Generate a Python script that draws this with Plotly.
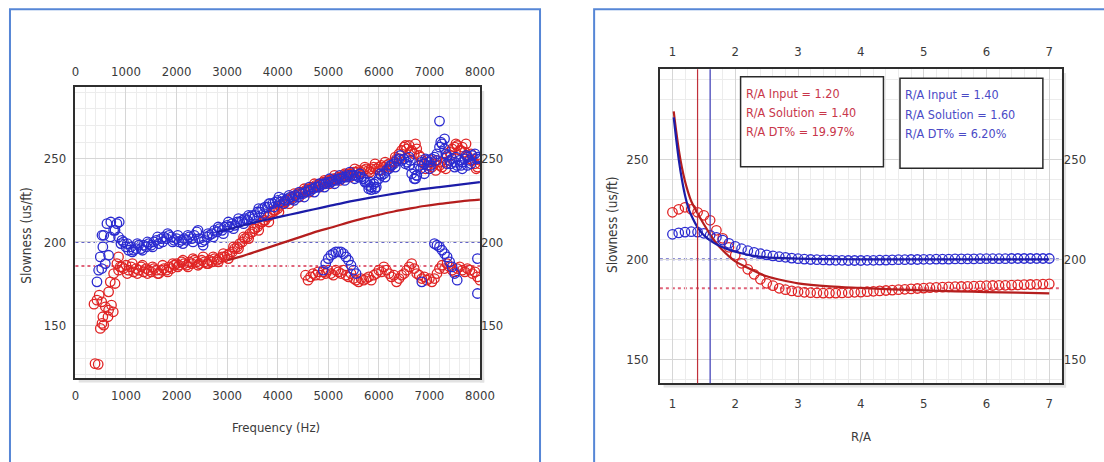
import plotly.graph_objects as go

W, H = 1104, 462
W_EFF = 1089  # horizontal extent the page is actually photographed at

# ---------------- Left panel: slowness vs frequency ----------------
band_hz = list(range(950, 8001, 50))
blue_band_us = [
    200, 197, 195, 197, 195, 196, 198, 196, 198, 197,
    199, 198, 200, 201, 199, 202, 203, 202, 204, 203,
    201, 202, 200, 201, 202, 201, 203, 202, 204, 206,
    202, 200, 201, 203, 204, 205, 207, 206, 208, 207,
    209, 210, 209, 211, 210, 212, 212, 213, 214, 213,
    215, 216, 216, 218, 218, 220, 221, 221, 223, 223,
    224, 225, 224, 226, 225, 226, 227, 226, 228, 227,
    229, 229, 230, 231, 231, 232, 233, 233, 234, 235,
    235, 236, 236, 237, 237, 238, 238, 239, 239, 240,
    240, 240, 240, 239, 239, 238, 236, 234, 233, 235,
    236, 238, 240, 241, 243, 244, 246, 247, 249, 250,
    249, 250, 248, 246, 241, 244, 240, 246, 248, 247,
    249, 248, 250, 251, 253, 257, 259, 256, 252, 249,
    250, 248, 246, 249, 248, 250, 251, 249, 252, 253,
    251, 250,
]
red_band_us = [
    184, 186, 183, 185, 182, 184, 183, 185, 182, 184,
    183, 182, 184, 183, 181, 183, 184, 183, 185, 184,
    186, 187, 186, 188, 187, 186, 188, 187, 189, 188,
    187, 189, 188, 187, 189, 188, 190, 189, 190, 191,
    191, 192, 193, 194, 196, 197, 199, 200, 202, 203,
    205, 206, 208, 209, 211, 212, 213, 215, 216, 218,
    219, 220, 222, 223, 224, 225, 226, 227, 228, 229,
    230, 230, 231, 232, 232, 233, 234, 234, 235, 236,
    236, 237, 237, 238, 238, 239, 239, 240, 240, 241,
    241, 242, 242, 243, 242, 243, 244, 243, 244, 245,
    244, 245, 246, 245, 246, 247, 246, 248, 250, 253,
    255, 257, 256, 258, 255, 253, 256, 252, 249, 247,
    246, 248, 245, 247, 249, 246, 245, 248, 251, 254,
    256, 257, 258, 255, 257, 254, 252, 250, 249, 247,
    245, 247,
]
band2_hz = list(range(1025, 8000, 100))
blue_band2_us = [
    199, 194, 199, 195, 200, 197, 203, 200, 205, 200,
    204, 199, 204, 200, 207, 198, 205, 203, 209, 205,
    212, 208, 214, 211, 216, 214, 220, 217, 223, 221,
    227, 223, 228, 225, 230, 227, 233, 230, 235, 233,
    238, 235, 240, 237, 242, 238, 241, 236, 236, 232,
    241, 239, 246, 245, 252, 247, 249, 238, 244, 250,
    246, 249, 260, 253, 247, 251, 246, 252, 247, 250,
]
red_band2_us = [
    181, 187, 181, 186, 181, 185, 181, 186, 182, 187,
    185, 189, 185, 190, 186, 191, 187, 191, 188, 193,
    190, 197, 196, 203, 202, 208, 207, 213, 212, 219,
    218, 224, 223, 229, 227, 232, 230, 235, 233, 237,
    235, 240, 237, 241, 239, 244, 241, 245, 242, 247,
    243, 248, 245, 251, 250, 258, 254, 259, 251, 244,
    249, 243, 248, 244, 252, 259, 255, 259, 253, 244,
]
red_low_hz = list(range(4550, 8001, 50))
red_low_us = [
    180, 177, 179, 181, 180, 182, 180, 182, 181, 183,
    181, 180, 183, 182, 181, 183, 180, 179, 181, 178,
    177, 176, 178, 177, 178, 179, 177, 180, 181, 183,
    182, 185, 183, 181, 179, 180, 176, 178, 180, 181,
    183, 185, 187, 184, 181, 180, 178, 179, 177, 178,
    176, 178, 181, 184, 186, 184, 187, 185, 183, 182,
    184, 185, 183, 182, 184, 183, 181, 182, 179, 177,
]
red_lowf_hz = [367, 388, 450, 426, 470, 492, 520, 525, 542, 560, 591, 644,
               656, 656, 689, 713, 748, 755, 783, 820, 852, 853, 885, 920]
red_lowf_us = [162.6, 126.8, 126.4, 165, 168, 148, 164, 151, 155, 150, 161, 155,
               159, 170, 176, 162, 158, 181, 175, 187, 191, 183, 185, 185]
blue_lowf_hz = [426, 459, 492, 520, 525, 542, 560, 591, 623, 656, 689, 700,
                755, 783, 820, 853, 866, 900, 920]
blue_lowf_us = [176, 183, 191, 184, 204, 197, 204, 187, 211, 192, 203, 212,
                207, 207, 211, 203, 212, 199, 201]
blue_bump_hz = [4900, 4950, 5000, 5050, 5100, 5150, 5200, 5250, 5300, 5350,
                5400, 5450, 5500, 5550]
blue_bump_us = [183, 187, 190, 192, 193, 194, 194, 194, 193, 191, 189, 186, 183, 181]
blue_tail_hz = [7100, 7150, 7200, 7250, 7300, 7350, 7400, 7450, 7500, 7550,
                6850, 7950, 7950]
blue_tail_us = [199, 198, 197, 195, 193, 191, 188, 185, 181, 177, 176, 190, 169]
blue_extra_hz = [6700, 6750, 6900, 7000, 7300, 7200, 7500, 7650, 5800, 5850,
                 5950, 7750, 7350, 6600]
blue_extra_us = [238, 240, 241, 244, 262, 272.7, 245, 244, 232, 231.5,
                 233, 246, 247, 251]

blue_fit_hz = [2800, 3200, 3500, 3800, 4100, 4400, 4700, 5000, 5300, 5600,
               6000, 6400, 6800, 7200, 7600, 8000]
blue_fit_us = [206, 209, 211.5, 213.5, 215.5, 217.5, 219.5, 221.5, 223.5, 225.3,
               227.5, 229.5, 231.5, 233, 234.5, 236]
red_fit_hz = [3000, 3300, 3600, 3900, 4200, 4500, 4800, 5100, 5400, 5700,
              6000, 6300, 6600, 6900, 7200, 7500, 7800, 8000]
red_fit_us = [189, 191.5, 194.5, 197.5, 200.5, 203.5, 206.5, 209, 211.8, 214.2,
              216.3, 218.3, 220, 221.6, 222.9, 224, 225, 225.5]

ref_blue_us = 200
ref_red_us = 185.5

# ---------------- Right panel: slowness vs R/A ----------------
ra_grid = [round(1.0 + 0.1 * i, 1) for i in range(61)]
red_ra_us = [
    223.5, 225.0, 226.0, 225.0, 223.5, 222.0, 219.5, 214.5, 210.5, 206.0,
    202.0, 198.0, 195.0, 192.5, 190.0, 188.0, 186.8, 185.5, 184.8, 184.2,
    183.8, 183.5, 183.3, 183.2, 183.1, 183.1, 183.1, 183.2, 183.3, 183.5,
    183.6, 183.8, 184.0, 184.2, 184.4, 184.6, 184.8, 185.0, 185.2, 185.4,
    185.6, 185.8, 186.0, 186.1, 186.2, 186.3, 186.4, 186.5, 186.6, 186.7,
    186.8, 186.9, 187.0, 187.0, 187.1, 187.2, 187.3, 187.4, 187.5, 187.6,
    187.7,
]
blue_ra_us = [
    212.5, 213.2, 213.6, 213.8, 213.6, 213.0, 212.0, 211.0, 209.6, 208.0,
    206.5, 205.3, 204.3, 203.5, 202.8, 202.2, 201.7, 201.3, 201.0, 200.6,
    200.3, 200.1, 199.9, 199.8, 199.7, 199.6, 199.5, 199.5, 199.4, 199.4,
    199.4, 199.5, 199.5, 199.6, 199.6, 199.7, 199.8, 199.8, 199.9, 199.9,
    200.0, 200.0, 200.1, 200.1, 200.1, 200.2, 200.2, 200.2, 200.2, 200.3,
    200.3, 200.3, 200.3, 200.3, 200.4, 200.4, 200.4, 200.4, 200.4, 200.4,
    200.4,
]
fit_ra = [1.02, 1.06, 1.1, 1.15, 1.2, 1.25, 1.3, 1.4, 1.5, 1.6, 1.7, 1.8, 1.9,
          2.0, 2.25, 2.5, 2.75, 3.0, 3.5, 4.0, 4.5, 5.0, 5.5, 6.0, 6.5, 7.0]
red_fit_ra_us = [274, 264, 255, 246, 239, 233.5, 229, 223, 217.5, 212.5, 208, 204.5,
                 201.5, 199, 195, 191.5, 189.5, 188, 186.5, 185.7, 185, 184.5, 184,
                 183.6, 183.3, 183]
blue_fit_ra_us = [271, 260, 250, 240, 232, 226, 222, 216, 212, 209.5, 207.5, 206,
                  204.8, 203.8, 202, 201, 200.6, 200.3, 200.1, 200, 200, 200, 200,
                  200, 200, 200]
ra_solution = [1.40, 1.60]
box_red_lines = ["R/A Input = 1.20", "R/A Solution = 1.40", "R/A DT% = 19.97%"]
box_blue_lines = ["R/A Input = 1.40", "R/A Solution = 1.60", "R/A DT% = 6.20%"]

# ---------------- styling ----------------
RED_M = "#e02424"
BLUE_M = "#2b2bd0"
RED_L = "#b51e1e"
BLUE_L = "#1c1ca8"
RED_D = "#e0647a"
BLUE_D = "#6464c8"
RED_T = "#c8364a"
BLUE_T = "#4a4ac6"
FONT = "Liberation Sans Narrow, DejaVu Sans Condensed, Arial Narrow, sans-serif"
TICK_FONT = dict(family=FONT, size=13, color="#3a3a3a")


def px_x(p):
    return p / W_EFF


def px_y(p):
    return (H - p) / H


fig = go.Figure()


def circles(x, y, color, xa, ya, size=9.5):
    fig.add_trace(go.Scatter(
        x=x, y=y, mode="markers", xaxis=xa, yaxis=ya, showlegend=False,
        hoverinfo="skip",
        marker=dict(symbol="circle-open", size=size, color=color,
                    line=dict(width=1.3, color=color))))


def curve(x, y, color, xa, ya):
    fig.add_trace(go.Scatter(
        x=x, y=y, mode="lines", xaxis=xa, yaxis=ya, showlegend=False,
        hoverinfo="skip", line=dict(color=color, width=2.2, shape="spline")))


# left panel traces
circles(red_lowf_hz, red_lowf_us, RED_M, "x", "y")
circles(red_low_hz, red_low_us, RED_M, "x", "y")
circles(band2_hz, red_band2_us, RED_M, "x", "y")
circles(band_hz, red_band_us, RED_M, "x", "y")
circles(blue_lowf_hz, blue_lowf_us, BLUE_M, "x", "y")
circles(blue_bump_hz, blue_bump_us, BLUE_M, "x", "y")
circles(blue_tail_hz, blue_tail_us, BLUE_M, "x", "y")
circles(blue_extra_hz, blue_extra_us, BLUE_M, "x", "y")
circles(band2_hz, blue_band2_us, BLUE_M, "x", "y")
circles(band_hz, blue_band_us, BLUE_M, "x", "y")
curve(blue_fit_hz, blue_fit_us, BLUE_L, "x", "y")
curve(red_fit_hz, red_fit_us, RED_L, "x", "y")
# overlay axes (top / right labels)
fig.add_trace(go.Scatter(x=[], y=[], xaxis="x2", yaxis="y2", showlegend=False))

# right panel traces
circles(ra_grid, red_ra_us, RED_M, "x3", "y3")
circles(ra_grid, blue_ra_us, BLUE_M, "x3", "y3")
curve(fit_ra, red_fit_ra_us, RED_L, "x3", "y3")
curve(fit_ra, blue_fit_ra_us, BLUE_L, "x3", "y3")
fig.add_trace(go.Scatter(x=[], y=[], xaxis="x4", yaxis="y4", showlegend=False))

# domains (pixel measured)
L_X = [px_x(71.7), px_x(477.7)]
L_Y = [px_y(378.3), px_y(87.3)]
R_X = [px_x(658.3), px_x(1061.7)]
R_Y = [px_y(383.3), px_y(69.3)]

grid_major = "#d6d6d6"
grid_minor = "#ececec"


def xax(domain, rng, dtick, minor, side, anchor, overlay=None, standoff=8):
    d = dict(domain=domain, range=rng, dtick=dtick, tick0=0, side=side,
             anchor=anchor, tickfont=TICK_FONT, zeroline=False,
             ticks="", ticklabelstandoff=standoff, fixedrange=True)
    if overlay:
        d.update(overlaying=overlay, showgrid=False, showline=False)
    else:
        d.update(showgrid=True, gridcolor=grid_major, gridwidth=1,
                 minor=dict(dtick=minor, showgrid=True, gridcolor=grid_minor, gridwidth=1),
                 showline=True, linecolor="#2e2e2e", linewidth=1.5, mirror=True)
    return d


lay = dict(
    width=W, height=H, margin=dict(l=0, r=0, t=0, b=0), autosize=False,
    paper_bgcolor="white", plot_bgcolor="white",
    xaxis=xax(L_X, [0, 8000], 1000, 200, "bottom", "y", standoff=4),
    xaxis2=xax(L_X, [0, 8000], 1000, 200, "top", "y", overlay="x", standoff=8),
    yaxis=xax(L_Y, [118, 293], 50, 10, "left", "x", standoff=5),
    yaxis2=xax(L_Y, [118, 293], 50, 10, "right", "x", overlay="y", standoff=0),
    xaxis3=xax(R_X, [0.8, 7.2], 1, 0.2, "bottom", "y3", standoff=7),
    xaxis4=xax(R_X, [0.8, 7.2], 1, 0.2, "top", "y3", overlay="x3", standoff=10),
    yaxis3=xax(R_Y, [138, 295], 50, 10, "left", "x3", standoff=7),
    yaxis4=xax(R_Y, [138, 295], 50, 10, "right", "x3", overlay="y3", standoff=1),
)
fig.update_layout(**lay)

shapes = []
# panel borders
shapes.append(dict(type="rect", xref="paper", yref="paper", x0=px_x(6), x1=px_x(538),
                   y0=-0.05, y1=px_y(9.3), line=dict(color="#5686d6", width=2),
                   layer="below"))
shapes.append(dict(type="rect", xref="paper", yref="paper", x0=px_x(592.3), x1=1.05,
                   y0=-0.05, y1=px_y(9.3), line=dict(color="#5686d6", width=2),
                   layer="below"))
# frame shadows
for (x0, x1, y0, y1) in [(477.7, 482, 91, 382.5), (75, 482, 378.3, 382.5),
                         (1061.7, 1066, 73, 387.5), (662, 1066, 383.3, 387.5)]:
    shapes.append(dict(type="rect", xref="paper", yref="paper", x0=px_x(x0), x1=px_x(x1),
                       y0=px_y(y1), y1=px_y(y0), line=dict(width=0),
                       fillcolor="#e2e2e2", layer="below"))
# reference dashed lines
for xa, ya in [("x", "y"), ("x3", "y3")]:
    shapes.append(dict(type="line", xref=f"{xa} domain", yref=ya, x0=0, x1=1,
                       y0=ref_blue_us, y1=ref_blue_us,
                       line=dict(color=BLUE_D, width=2, dash="3px,3px"), layer="below"))
    shapes.append(dict(type="line", xref=f"{xa} domain", yref=ya, x0=0, x1=1,
                       y0=ref_red_us, y1=ref_red_us,
                       line=dict(color=RED_D, width=2, dash="3px,3px"), layer="below"))
# solution vertical lines
shapes.append(dict(type="line", xref="x3", yref="y3 domain", x0=ra_solution[0],
                   x1=ra_solution[0], y0=0, y1=1, line=dict(color="#c0303a", width=1.2)))
shapes.append(dict(type="line", xref="x3", yref="y3 domain", x0=ra_solution[1],
                   x1=ra_solution[1], y0=0, y1=1, line=dict(color="#3a3ab8", width=1.2)))
# text boxes
shapes.append(dict(type="rect", xref="paper", yref="paper", x0=px_x(739.3), x1=px_x(882.7),
                   y0=px_y(166.7), y1=px_y(76.7), line=dict(color="#2a2a2a", width=1.5),
                   fillcolor="white"))
shapes.append(dict(type="rect", xref="paper", yref="paper", x0=px_x(899.3), x1=px_x(1042.7),
                   y0=px_y(168.3), y1=px_y(78.3), line=dict(color="#2a2a2a", width=1.5),
                   fillcolor="white"))
fig.update_layout(shapes=shapes)

ann = []
for i, t in enumerate(box_red_lines):
    ann.append(dict(text=t, xref="paper", yref="paper", x=px_x(742.5),
                    y=px_y([93.3, 112.5, 131.7][i]), xanchor="left", yanchor="middle",
                    showarrow=False, font=dict(family=FONT, size=12.5, color=RED_T)))
for i, t in enumerate(box_blue_lines):
    ann.append(dict(text=t, xref="paper", yref="paper", x=px_x(902.5),
                    y=px_y([95, 114.5, 133.5][i]), xanchor="left", yanchor="middle",
                    showarrow=False, font=dict(family=FONT, size=12.5, color=BLUE_T)))
ann.append(dict(text="Frequency (Hz)", xref="paper", yref="paper", x=px_x(273),
                y=px_y(427), xanchor="center", yanchor="middle", showarrow=False,
                font=dict(family=FONT, size=13, color="#3a3a3a")))
ann.append(dict(text="R/A", xref="paper", yref="paper", x=px_x(860),
                y=px_y(436), xanchor="center", yanchor="middle", showarrow=False,
                font=dict(family=FONT, size=13, color="#3a3a3a")))
ann.append(dict(text="Slowness (us/ft)", xref="paper", yref="paper", x=px_x(21.8),
                y=px_y(235), xanchor="center", yanchor="middle", showarrow=False,
                textangle=-90, font=dict(family=FONT, size=13.5, color="#3a3a3a")))
ann.append(dict(text="Slowness (us/ft)", xref="paper", yref="paper", x=px_x(610.3),
                y=px_y(225), xanchor="center", yanchor="middle", showarrow=False,
                textangle=-90, font=dict(family=FONT, size=13.5, color="#3a3a3a")))
fig.update_layout(annotations=ann)

fig.write_html(
    "out.html",
    config={"displayModeBar": False},
    post_script="document.body.style.margin='0';document.body.style.overflow='hidden';",
)
